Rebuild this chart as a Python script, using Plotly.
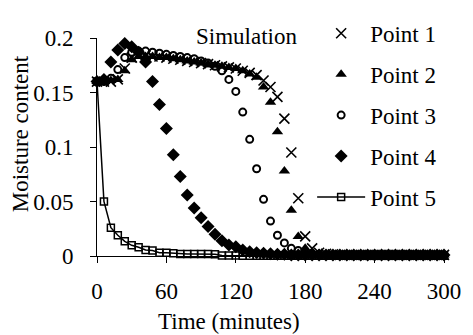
import plotly.graph_objects as go

# Time (minutes), sampled every 6 minutes
time_min = list(range(0, 301, 6))

point1 = [0.160, 0.160, 0.160, 0.162, 0.172, 0.182, 0.184, 0.184, 0.183, 0.183,
          0.182, 0.181, 0.180, 0.179, 0.178, 0.177, 0.176, 0.175, 0.174, 0.173,
          0.172, 0.170, 0.168, 0.166, 0.161, 0.155, 0.146, 0.126, 0.095, 0.053,
          0.018, 0.007, 0.003, 0.002, 0.0015, 0.001, 0.001, 0.001, 0.001, 0.001,
          0.001, 0.001, 0.001, 0.001, 0.001, 0.001, 0.001, 0.001, 0.001, 0.001, 0.001]
point2 = [0.160, 0.160, 0.161, 0.162, 0.170, 0.180, 0.183, 0.183, 0.183, 0.182,
          0.182, 0.181, 0.180, 0.179, 0.178, 0.177, 0.176, 0.175, 0.174, 0.173,
          0.172, 0.170, 0.167, 0.164, 0.155, 0.141, 0.114, 0.078, 0.042, 0.018,
          0.007, 0.003, 0.002, 0.0015, 0.001, 0.001, 0.001, 0.001, 0.001, 0.001,
          0.001, 0.001, 0.001, 0.001, 0.001, 0.001, 0.001, 0.001, 0.001, 0.001, 0.001]
point3 = [0.160, 0.160, 0.163, 0.171, 0.182, 0.187, 0.188, 0.188, 0.187, 0.186,
          0.185, 0.184, 0.183, 0.182, 0.181, 0.179, 0.177, 0.174, 0.170, 0.162,
          0.151, 0.132, 0.107, 0.080, 0.052, 0.032, 0.019, 0.012, 0.007, 0.005,
          0.003, 0.002, 0.0015, 0.001, 0.001, 0.001, 0.001, 0.001, 0.001, 0.001,
          0.001, 0.001, 0.001, 0.001, 0.001, 0.001, 0.001, 0.001, 0.001, 0.001, 0.001]
point4 = [0.160, 0.162, 0.178, 0.189, 0.195, 0.192, 0.187, 0.178, 0.160, 0.139,
          0.117, 0.093, 0.073, 0.056, 0.044, 0.035, 0.027, 0.020, 0.014, 0.010,
          0.0085, 0.0055, 0.004, 0.003, 0.0025, 0.002, 0.0015, 0.0015, 0.001, 0.001,
          0.001, 0.001, 0.001, 0.001, 0.001, 0.001, 0.001, 0.001, 0.001, 0.001,
          0.001, 0.001, 0.001, 0.001, 0.001, 0.001, 0.001, 0.001, 0.001, 0.001, 0.001]
point5 = [0.160, 0.050, 0.026, 0.019, 0.0135, 0.0098, 0.008, 0.0055, 0.005, 0.003,
          0.003, 0.0025, 0.0018, 0.0018, 0.0018, 0.0018, 0.0018, 0.0015, 0.0005, 0.0004,
          0.0004, 0.0003, 0.0003, 0.0003, 0.0003, 0.0003, 0.0003, 0.0003, 0.0003, 0.0003,
          0.0003, 0.0003, 0.0003, 0.0003, 0.0003, 0.0003, 0.0003, 0.0003, 0.0003, 0.0003,
          0.0003, 0.0003, 0.0003, 0.0003, 0.0003, 0.0003, 0.0003, 0.0003, 0.0003, 0.0003, 0.0003]

x_ticks = [0, 60, 120, 180, 240, 300]
y_ticks = [0, 0.05, 0.1, 0.15, 0.2]

FONT = "Liberation Serif, Times New Roman, serif"
FS = 23

fig = go.Figure()
fig.add_trace(go.Scatter(x=time_min, y=point1, mode="markers", name="Point 1",
                         marker=dict(symbol="x-thin", size=10, color="black",
                                     line=dict(width=1.6, color="black")),
                         cliponaxis=False, legendgroup="1"))
fig.add_trace(go.Scatter(x=time_min, y=point2, mode="markers", name="Point 2",
                         marker=dict(symbol="triangle-up", size=10, color="black",
                                     line=dict(width=0)),
                         cliponaxis=False, legendgroup="2"))
fig.add_trace(go.Scatter(x=time_min, y=point3, mode="markers", name="Point 3",
                         marker=dict(symbol="circle-open", size=7, color="black",
                                     line=dict(width=2, color="black")),
                         cliponaxis=False, legendgroup="3"))
fig.add_trace(go.Scatter(x=time_min, y=point4, mode="markers", name="Point 4",
                         marker=dict(symbol="diamond", size=10, color="black",
                                     line=dict(width=0)),
                         cliponaxis=False, legendgroup="4"))
fig.add_trace(go.Scatter(x=time_min, y=point5, mode="lines+markers", name="Point 5",
                         line=dict(color="black", width=1.5),
                         marker=dict(symbol="square-open", size=7, color="black",
                                     line=dict(width=1.5, color="black")),
                         cliponaxis=False, legendgroup="5"))

axis_common = dict(showline=True, linecolor="black", linewidth=1, ticks="outside",
                   ticklen=6, tickcolor="black", tickwidth=1, showgrid=False,
                   zeroline=False, tickfont=dict(family=FONT, size=FS, color="black"))

fig.update_layout(
    width=473, height=335,
    margin=dict(l=97, r=20, t=38, b=79),
    paper_bgcolor="white", plot_bgcolor="white",
    font=dict(family=FONT, size=FS, color="black"),
    showlegend=True,
    legend=dict(x=0.62, y=1.12, xanchor="left", yanchor="top", itemwidth=48,
                bgcolor="rgba(0,0,0,0)", tracegroupgap=8, maxheight=320,
                font=dict(family=FONT, size=FS, color="black")),
    xaxis=dict(range=[0, 300], tickvals=x_ticks, ticklabelstandoff=8, **axis_common),
    yaxis=dict(range=[0, 0.2], tickvals=y_ticks, ticklabelstandoff=12, **axis_common),
    annotations=[
        dict(text="Moisture content", x=-0.218, y=0.56, xref="paper", yref="paper",
             textangle=-90, showarrow=False, xanchor="center", yanchor="middle",
             font=dict(family=FONT, size=FS, color="black")),
        dict(text="Time (minutes)", x=0.38, y=-0.30, xref="paper", yref="paper",
             showarrow=False, xanchor="center", yanchor="middle",
             font=dict(family=FONT, size=FS, color="black")),
        dict(text="Simulation", x=0.43, y=1.005, xref="paper", yref="paper",
             showarrow=False, xanchor="center", yanchor="middle",
             font=dict(family=FONT, size=FS, color="black")),
    ],
)

fig.write_html("out.html")
